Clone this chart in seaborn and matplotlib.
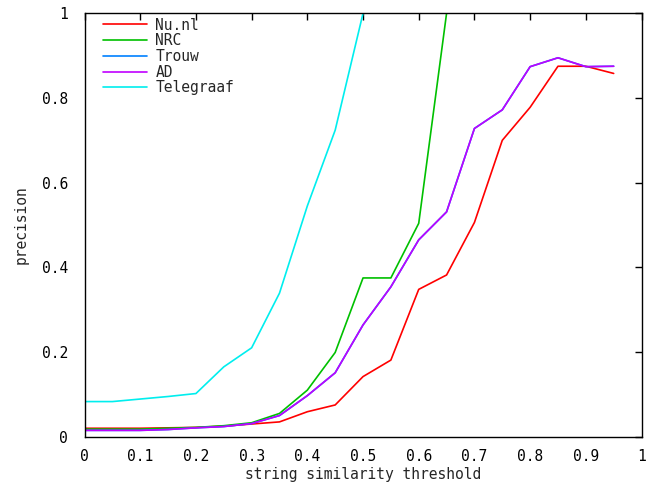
import numpy as np
import pandas as pd
import matplotlib
matplotlib.use("Agg")
import matplotlib.pyplot as plt
from matplotlib.ticker import FuncFormatter
import seaborn as sns

# String similarity thresholds (x axis)
thresholds = [0.00, 0.05, 0.10, 0.15, 0.20, 0.25, 0.30, 0.35, 0.40, 0.45,
              0.50, 0.55, 0.60, 0.65, 0.70, 0.75, 0.80, 0.85, 0.90, 0.95]

# Precision per news source
nu_nl = [0.020, 0.020, 0.020, 0.021, 0.022, 0.025, 0.030, 0.035, 0.059, 0.075,
         0.142, 0.181, 0.348, 0.382, 0.506, 0.700, 0.778, 0.875, 0.875, 0.858]
nrc = [0.018, 0.018, 0.018, 0.020, 0.022, 0.026, 0.033, 0.055, 0.110, 0.199,
       0.375, 0.375, 0.504, 1.000]
trouw = [0.015, 0.015, 0.015, 0.017, 0.021, 0.024, 0.031, 0.050, 0.097, 0.151,
         0.264, 0.354, 0.465, 0.531, 0.728, 0.772, 0.874, 0.895, 0.874, 0.875]
ad = [0.015, 0.015, 0.015, 0.017, 0.021, 0.024, 0.031, 0.050, 0.097, 0.151,
      0.264, 0.354, 0.465, 0.531, 0.728, 0.772, 0.874, 0.895, 0.874, 0.875]
telegraaf = [0.083, 0.083, 0.089, 0.095, 0.102, 0.165, 0.210, 0.339, 0.545, 0.724,
             1.000]

sources = ["Nu.nl", "NRC", "Trouw", "AD", "Telegraaf"]
series = [nu_nl, nrc, trouw, ad, telegraaf]
colors = ["#ff0000", "#00c000", "#0080ff", "#c000ff", "#00eeee"]

x_ticks = [0, 0.1, 0.2, 0.3, 0.4, 0.5, 0.6, 0.7, 0.8, 0.9, 1]
y_ticks = [0, 0.2, 0.4, 0.6, 0.8, 1]

rows = []
for name, vals in zip(sources, series):
    for t, v in zip(thresholds, vals):
        rows.append({"threshold": t, "precision": v, "source": name})
df = pd.DataFrame(rows)

sns.set_style("white")
plt.rcParams["font.family"] = ["DejaVu Sans Mono", "DejaVu Sans"]
fs = 10.5

fig = plt.figure(figsize=(6.63, 4.86), dpi=100)
ax = fig.add_axes([0.1275, 0.1014, 0.8401, 0.8712])

sns.lineplot(data=df, x="threshold", y="precision", hue="source",
             hue_order=sources, palette=dict(zip(sources, colors)),
             estimator=None, linewidth=1.2, ax=ax)

ax.set_xlim(0, 1)
ax.set_ylim(0, 1)
ax.set_xticks(x_ticks)
ax.set_yticks(y_ticks)
fmt = FuncFormatter(lambda v, p: f"{v:g}")
ax.xaxis.set_major_formatter(fmt)
ax.yaxis.set_major_formatter(fmt)
ax.tick_params(direction="in", length=5, width=1, color="black",
               top=True, right=True, labelsize=fs, labelcolor="black")
ax.tick_params(axis="y", pad=12)
ax.tick_params(axis="x", pad=9)
for s in ax.spines.values():
    s.set_visible(True)
    s.set_color("black")
    s.set_linewidth(1.0)

ax.set_xlabel("string similarity threshold", fontsize=fs, labelpad=2)
ax.set_ylabel("precision", fontsize=fs, labelpad=9)

leg = ax.legend(loc="upper left", bbox_to_anchor=(0.033, 0.99),
                frameon=False, fontsize=fs, handlelength=3.0,
                handletextpad=0.6, labelspacing=0.05,
                borderpad=0, borderaxespad=0)

fig.savefig("out.png", dpi=100)
